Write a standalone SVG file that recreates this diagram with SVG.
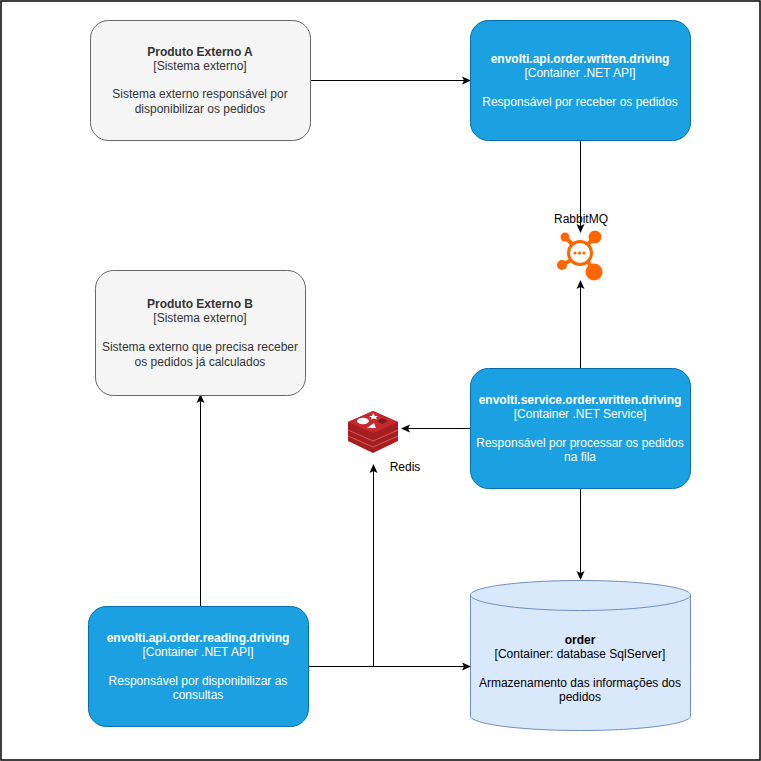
<svg xmlns="http://www.w3.org/2000/svg" width="761" height="761" viewBox="0 0 761 761">
<style>
text{font-family:"Liberation Sans",Arial,sans-serif;font-size:12px;text-anchor:middle;fill:#333}
.b{font-weight:bold}
.ext{fill:#f5f5f5;stroke:#666}
.blue{fill:#1ba1e2;stroke:#006eaf}
.w text{fill:#fff}
.d text{fill:#000}
.c{fill:none;stroke:#000;stroke-width:1;marker-end:url(#a)}
</style>
<defs><marker id="a" markerUnits="userSpaceOnUse" markerWidth="10" markerHeight="10" refX="8" refY="4.500" orient="auto"><path d="M0 0.500L9 4.500L0 8.500L2 4.500Z" fill="#000"/></marker></defs>
<rect x="1" y="1" width="759" height="759" fill="#fff" stroke="#000" stroke-width="1.500"/>
<g id="connectors">
<path class="c" d="M310 80.500H470"/>
<path class="c" d="M580.500 140V232"/>
<path class="c" d="M580.500 368V281"/>
<path class="c" d="M471 428.500H402"/>
<path class="c" d="M580.500 488V579"/>
<path class="c" d="M200.500 606V395"/>
<path class="c" d="M308 666.500H470"/>
<path class="c" d="M373.500 666V465"/>
</g>
<g id="a-ext"><rect class="ext" x="90.500" y="20.500" width="220" height="120" rx="18"/>
<text class="b" x="200" y="56">Produto Externo A</text><text x="200" y="70">[Sistema externo]</text><text x="200" y="98">Sistema externo responsável por</text><text x="200" y="113">disponibilizar os pedidos</text></g>
<g id="api-written" class="w"><rect class="blue" x="470.500" y="20.500" width="220" height="120" rx="18"/>
<text class="b" x="580" y="63">envolti.api.order.written.driving</text><text x="580" y="77">[Container .NET API]</text><text x="580" y="106">Responsável por receber os pedidos</text></g>
<g id="rabbitmq">
<g fill="#ff6600" stroke="none"><circle cx="565" cy="237" r="4.500"/><circle cx="595" cy="237" r="6.500"/><circle cx="562" cy="265" r="5"/><circle cx="594" cy="272" r="8.500"/></g>
<path d="M565 237L573 245M595 237L587 245M562 265L573 259M594 272L587 260" stroke="#ff6600" stroke-width="4"/>
<circle cx="580" cy="253" r="11.500" fill="#fff" stroke="#ff6600" stroke-width="3"/>
<g fill="#ff6600"><circle cx="575" cy="253" r="1.600"/><circle cx="579.500" cy="253" r="1.600"/><circle cx="584" cy="253" r="1.600"/></g>
<text x="581" y="223" style="fill:#000">RabbitMQ</text></g>
<g id="b-ext"><rect class="ext" x="95.500" y="270.500" width="210" height="125" rx="18"/>
<text class="b" x="200" y="308">Produto Externo B</text><text x="200" y="322">[Sistema externo]</text><text x="200" y="351">Sistema externo que precisa receber</text><text x="200" y="366">os pedidos já calculados</text></g>
<g id="redis">
<path d="M348 422L373 411L398 422V441L373 453L348 441Z" fill="#a41e22"/>
<path d="M348 422L373 411L398 422L373 433Z" fill="#c8282d"/>
<path d="M348 430L373 441L398 430M348 436L373 447L398 436" fill="none" stroke="#d9575b" stroke-width="1"/>
<ellipse cx="363" cy="421" rx="6" ry="3.200" fill="#fff"/><path d="M367 428L376 428L374 423Z" fill="#fff"/><path d="M369 416h3l1-3 2 3h3l-2 1.500 1 2-3-1-3 1 .500-2Z" fill="#fff"/><path d="M377 421l5-3 6 3-6 3Z" fill="#7a1a1c"/>
<text x="405" y="471" style="fill:#000">Redis</text></g>
<g id="service-written" class="w"><rect class="blue" x="470.500" y="368.500" width="220" height="120" rx="18"/>
<text class="b" x="580" y="404">envolti.service.order.written.driving</text><text x="580" y="418">[Container .NET Service]</text><text x="580" y="447">Responsável por processar os pedidos</text><text x="580" y="461">na fila</text></g>
<g id="api-reading" class="w"><rect class="blue" x="88.500" y="606.500" width="220" height="120" rx="18"/>
<text class="b" x="198" y="642">envolti.api.order.reading.driving</text><text x="198" y="656">[Container .NET API]</text><text x="198" y="685">Responsável por disponibilizar as</text><text x="198" y="699">consultas</text></g>
<g id="order" class="d"><path d="M470.500 595C470.500 587 520 580.500 580.500 580.500S690.500 587 690.500 595V716C690.500 724 641 730.500 580.500 730.500S470.500 724 470.500 716Z" fill="#dae8fc" stroke="#6c8ebf"/>
<path d="M470.500 595C470.500 603 520 610.500 580.500 610.500S690.500 603 690.500 595" fill="none" stroke="#6c8ebf"/>
<text class="b" x="580" y="644">order</text><text x="580" y="658">[Container: database SqlServer]</text><text x="580" y="687">Armazenamento das informações dos</text><text x="580" y="701">pedidos</text></g>
</svg>
